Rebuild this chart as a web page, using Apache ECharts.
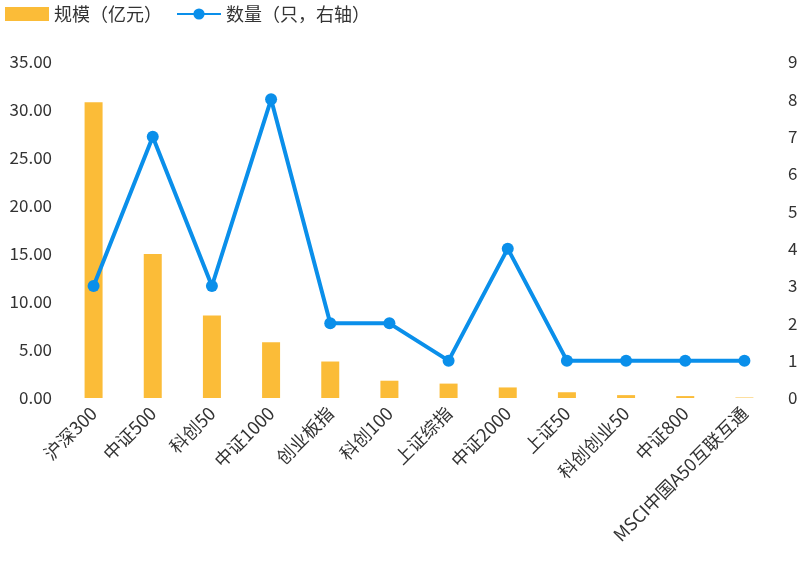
<!DOCTYPE html>
<html><head><meta charset="utf-8">
<script src="https://cdn.jsdelivr.net/npm/echarts@6/dist/echarts.min.js"></script>
<style>body{margin:0}#c{width:802px;height:573px}</style></head>
<body><div id="c"></div>
<script>
const categories=['沪深300','中证500','科创50','中证1000','创业板指','科创100','上证综指','中证2000','上证50','科创创业50','中证800','MSCI中国A50互联互通'];
const scaleValues=[30.8,15.0,8.6,5.8,3.8,1.8,1.5,1.1,0.6,0.3,0.2,0.05];
const countValues=[3,7,3,8,2,2,1,4,1,1,1,1];
const font='Noto Sans CJK SC';
const chart=echarts.init(document.getElementById('c'));
chart.setOption({
  textStyle:{fontFamily:font},
  legend:{left:0,top:0,itemGap:14,textStyle:{fontSize:18,color:'#333',fontFamily:font},
    data:[{name:'规模（亿元）',icon:'rect',itemStyle:{color:'#FBBC38'}},{name:'数量（只，右轴）'}],
    itemWidth:44,itemHeight:14},
  grid:{left:64,right:28,top:62,bottom:175},
  xAxis:{type:'category',data:categories,axisTick:{show:false},
    axisLine:{show:false},
    axisLabel:{rotate:45,interval:0,fontSize:18,color:'#333',fontFamily:font,margin:12}},
  yAxis:[{type:'value',min:0,max:35,interval:5,splitLine:{show:false},
    axisLabel:{formatter:v=>v.toFixed(2),fontSize:17,color:'#333',fontFamily:font,margin:12}},
    {type:'value',min:0,max:9,interval:1,splitLine:{show:false},
    axisLabel:{fontSize:17,color:'#333',fontFamily:font,margin:14}}],
  series:[{name:'规模（亿元）',type:'bar',data:scaleValues,barWidth:18,itemStyle:{color:'#FBBC38'}},
    {name:'数量（只，右轴）',type:'line',yAxisIndex:1,data:countValues,symbol:'circle',symbolSize:12,
     lineStyle:{width:4,color:'#0A8FEA'},itemStyle:{color:'#0A8FEA'}}]
});
</script></body></html>
